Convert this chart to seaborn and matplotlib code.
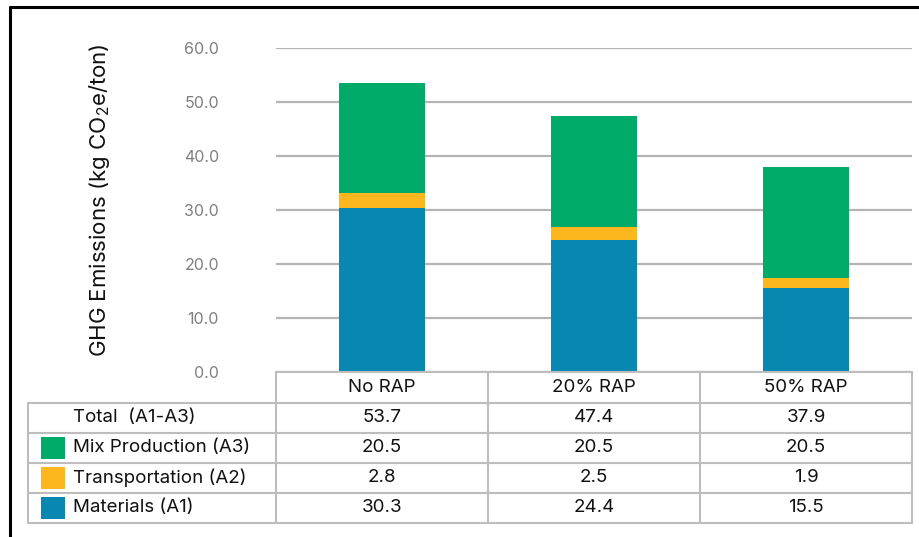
import matplotlib
matplotlib.use("Agg")
import matplotlib.pyplot as plt
from matplotlib.lines import Line2D
from matplotlib.patches import Rectangle
import seaborn as sns
import pandas as pd

categories = ["No RAP", "20% RAP", "50% RAP"]
materials = [30.3, 24.4, 15.5]
transportation = [2.8, 2.5, 1.9]
mix_production = [20.5, 20.5, 20.5]
totals = [53.7, 47.4, 37.9]
total_label = "Total  (A1-A3)"
series_names = ["Mix Production (A3)", "Transportation (A2)", "Materials (A1)"]
yticks = [0, 10, 20, 30, 40, 50, 60]

colors = {
    "Materials (A1)": "#0887b0",
    "Transportation (A2)": "#fdb71e",
    "Mix Production (A3)": "#00aa69",
}

W, H = 919, 537
sns.set_theme(style="white")
plt.rcParams["font.family"] = ["Inter", "DejaVu Sans"]
plt.rcParams["mathtext.fontset"] = "custom"
plt.rcParams["mathtext.rm"] = "Inter"
plt.rcParams["mathtext.it"] = "Inter:italic"

fig = plt.figure(figsize=(W / 100, H / 100), dpi=100)
L, R, T, B = 276, 912, 48, 372
ax = fig.add_axes([L / W, 1 - B / H, (R - L) / W, (B - T) / H])

df = pd.DataFrame({"cat": categories, "A1": materials, "A2": transportation, "A3": mix_production})
df["top_a2"] = df["A1"] + df["A2"]
df["top_a3"] = df["top_a2"] + df["A3"]

# stacked bars: draw cumulative heights back to front
for col, name in [("top_a3", "Mix Production (A3)"), ("top_a2", "Transportation (A2)"), ("A1", "Materials (A1)")]:
    sns.barplot(data=df, x="cat", y=col, color=colors[name], width=0.41,
                saturation=1, errorbar=None, ax=ax, zorder=3,
                linewidth=0, edgecolor="none")

ax.set_xlim(-0.5, 2.5)
ax.set_ylim(0, 60)
ax.set_yticks(yticks)
ax.set_yticklabels([f"{v:.1f}" for v in yticks], color="#7f7f7f", fontsize=11.5)
ax.tick_params(axis="y", length=0, pad=41)
ax.set_xticks([])
ax.set_xlabel("")
ax.set_ylabel("")
ax.yaxis.grid(True, color="#b4b4b4", lw=1.6)
ax.set_axisbelow(True)
for s in ax.spines.values():
    s.set_visible(False)

fig.text(100 / W, 1 - 200 / H, r"GHG Emissions (kg CO$_2$e/ton)", rotation=90,
         ha="center", va="center", fontsize=16, color="#111111")

# data table under the plot
fig.canvas.draw()
to_fig = fig.transFigure.inverted()


def col_x(xd):
    return to_fig.transform(ax.transData.transform((xd, 0)))[0]


def fy(py):
    return 1 - py / H


grid_c = "#bdbdbd"
edges = [col_x(i - 0.5) for i in range(len(categories) + 1)]
x_left = 28 / W
rows_y = [402.5, 432.5, 462.5, 492.5, 522.5]

fig.add_artist(Line2D([edges[0], edges[-1]], [fy(B), fy(B)], color=grid_c, lw=1.5))
for yy in rows_y:
    fig.add_artist(Line2D([x_left, edges[-1]], [fy(yy), fy(yy)], color=grid_c, lw=1.5))
fig.add_artist(Line2D([x_left, x_left], [fy(rows_y[0]), fy(rows_y[-1])], color=grid_c, lw=1.5))
for ex in edges:
    fig.add_artist(Line2D([ex, ex], [fy(B), fy(rows_y[-1])], color=grid_c, lw=1.5))

txt_c = "#111111"
fs = 13.5
for i, c in enumerate(categories):
    fig.text(col_x(i), fy((B + rows_y[0]) / 2), c, ha="center", va="center", fontsize=fs, color=txt_c)

row_labels = [total_label] + series_names
row_values = [totals, mix_production, transportation, materials]
for r, (lab, vals) in enumerate(zip(row_labels, row_values)):
    yc = (rows_y[r] + rows_y[r + 1]) / 2
    fig.text(73 / W, fy(yc), lab, ha="left", va="center", fontsize=fs, color=txt_c)
    if lab in colors:
        fig.add_artist(Rectangle((41 / W, fy(yc + 11)), 24 / W, 22 / H,
                                 transform=fig.transFigure, facecolor=colors[lab], edgecolor="none"))
    for i, v in enumerate(vals):
        fig.text(col_x(i), fy(yc), f"{v:.1f}", ha="center", va="center", fontsize=fs, color=txt_c)

# outer frame (top and left edges visible)
fig.add_artist(Line2D([10 / W, 1], [fy(7), fy(7)], color="black", lw=2.2))
fig.add_artist(Line2D([10 / W, 10 / W], [fy(7), 0], color="black", lw=2.2))

fig.savefig("out.png", dpi=100)
